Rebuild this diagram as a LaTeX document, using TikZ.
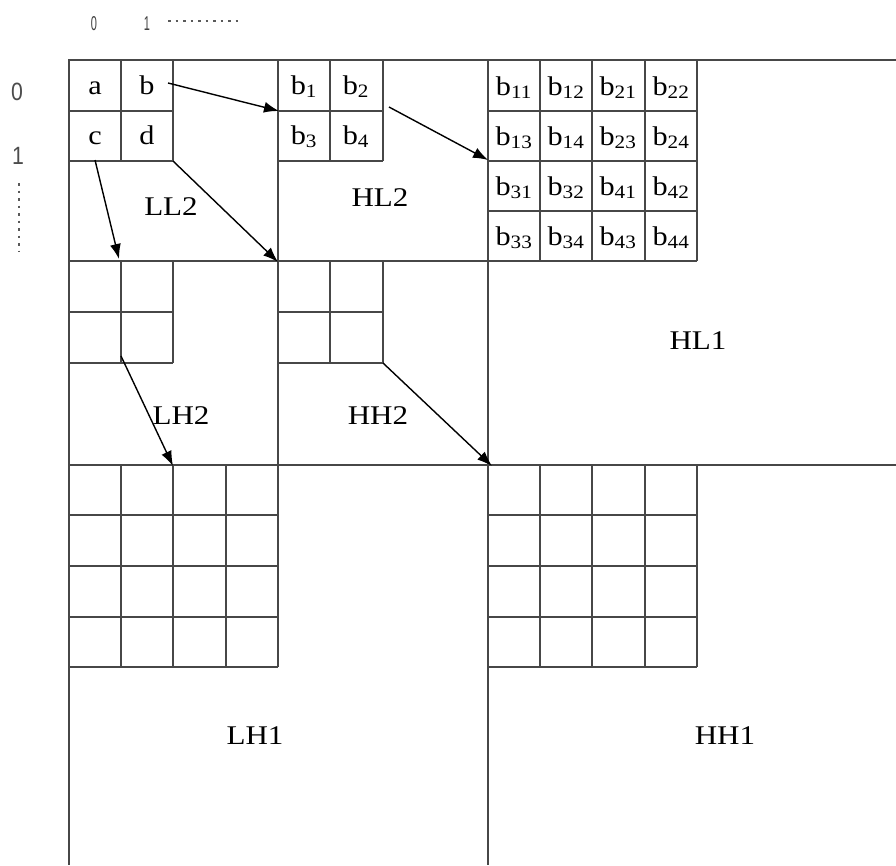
\documentclass[tikz,border=0pt]{standalone}
\usepackage{fontspec}
\setmainfont{Liberation Serif}
\newfontfamily\sansf{Liberation Sans}
\usetikzlibrary{arrows.meta}
\begin{document}
\begin{tikzpicture}[x=1pt,y=-1pt,
  gridline/.style={draw=black!72,line width=1.6pt},
  arr/.style={draw=black,line width=1.4pt,-{Latex[length=15pt,width=11pt]}},
  celltxt/.style={font=\fontsize{27}{29}\selectfont,xscale=1.12,inner sep=0pt,anchor=base},
  bandtxt/.style={font=\fontsize{27}{29}\selectfont,xscale=1.15,inner sep=0pt,anchor=base},
  axnum/.style={font=\sansf\fontsize{25}{27}\selectfont,text=black!70,inner sep=0pt,anchor=base,xscale=0.85},
  topnum/.style={font=\sansf\fontsize{20}{22}\selectfont,text=black!75,inner sep=0pt,anchor=base,xscale=0.55},
  dots/.style={draw=black!65,line width=2.4pt,dash pattern=on 2.5pt off 5pt}
]
\useasboundingbox (0,0) rectangle (896,865);
\fill[white] (0,0) rectangle (896,865);

% ---------- main frame ----------
\draw[gridline] (896,60) -- (69,60) -- (69,865);
\draw[gridline] (69,465) -- (896,465);
\draw[gridline] (488,60) -- (488,865);
\draw[gridline] (278,60) -- (278,465);
\draw[gridline] (69,261) -- (697,261);

% ---------- LL2 sub-grid ----------
\draw[gridline] (69,111) -- (173,111) (69,161) -- (173,161)
  (121,60) -- (121,161) (173,60) -- (173,161);
% ---------- HL2 sub-grid ----------
\draw[gridline] (278,111) -- (383,111) (278,161) -- (383,161)
  (330,60) -- (330,161) (383,60) -- (383,161);
% ---------- HL1 4x4 grid ----------
\draw[gridline] (488,111) -- (697,111) (488,161) -- (697,161) (488,211) -- (697,211)
  (540,60) -- (540,261) (592,60) -- (592,261) (645,60) -- (645,261) (697,60) -- (697,261);
% ---------- LH2 sub-grid ----------
\draw[gridline] (69,312) -- (173,312) (69,363) -- (173,363)
  (121,261) -- (121,363) (173,261) -- (173,363);
% ---------- HH2 sub-grid ----------
\draw[gridline] (278,312) -- (383,312) (278,363) -- (383,363)
  (330,261) -- (330,363) (383,261) -- (383,363);
% ---------- LH1 4x4 grid ----------
\draw[gridline] (69,515) -- (278,515) (69,566) -- (278,566) (69,617) -- (278,617) (69,667) -- (278,667)
  (121,465) -- (121,667) (173,465) -- (173,667) (226,465) -- (226,667) (278,465) -- (278,667);
% ---------- HH1 4x4 grid ----------
\draw[gridline] (488,515) -- (697,515) (488,566) -- (697,566) (488,617) -- (697,617) (488,667) -- (697,667)
  (540,465) -- (540,667) (592,465) -- (592,667) (645,465) -- (645,667) (697,465) -- (697,667);

% ---------- axis labels ----------
\node[topnum] (t0) at (94,30) {0};
\node[topnum] (t1) at (147,30) {1};
\coordinate (tdA) at (168,21);
\coordinate (tdB) at (238,21);
\draw[dots] (tdA) -- (tdB);
\node[axnum] (l0) at (17,100) {0};
\node[axnum] (l1) at (18,164) {1};
\coordinate (ldA) at (19,183);
\coordinate (ldB) at (19,252);
\draw[dots] (ldA) -- (ldB);

% ---------- cell letters ----------
\node[celltxt] (ca) at (95,94) {a};
\node[celltxt] (cb) at (147,94) {b};
\node[celltxt] (cc) at (95,144) {c};
\node[celltxt] (cd) at (147,144) {d};

\node[celltxt] (b1) at (304,94) {b\textsubscript{1}};
\node[celltxt] (b2) at (356,94) {b\textsubscript{2}};
\node[celltxt] (b3) at (304,144) {b\textsubscript{3}};
\node[celltxt] (b4) at (356,144) {b\textsubscript{4}};

\node[celltxt] (b11) at (514,95) {b\textsubscript{11}};
\node[celltxt] (b12) at (566,95) {b\textsubscript{12}};
\node[celltxt] (b21) at (618,95) {b\textsubscript{21}};
\node[celltxt] (b22) at (671,95) {b\textsubscript{22}};
\node[celltxt] (b13) at (514,145) {b\textsubscript{13}};
\node[celltxt] (b14) at (566,145) {b\textsubscript{14}};
\node[celltxt] (b23) at (618,145) {b\textsubscript{23}};
\node[celltxt] (b24) at (671,145) {b\textsubscript{24}};
\node[celltxt] (b31) at (514,195) {b\textsubscript{31}};
\node[celltxt] (b32) at (566,195) {b\textsubscript{32}};
\node[celltxt] (b41) at (618,195) {b\textsubscript{41}};
\node[celltxt] (b42) at (671,195) {b\textsubscript{42}};
\node[celltxt] (b33) at (514,245) {b\textsubscript{33}};
\node[celltxt] (b34) at (566,245) {b\textsubscript{34}};
\node[celltxt] (b43) at (618,245) {b\textsubscript{43}};
\node[celltxt] (b44) at (671,245) {b\textsubscript{44}};

% ---------- band labels ----------
\node[bandtxt] (LL2) at (171,215) {LL2};
\node[bandtxt] (HL2) at (380,206) {HL2};
\node[bandtxt] (HL1) at (698,349) {HL1};
\node[bandtxt] (LH2) at (181,424) {LH2};
\node[bandtxt] (HH2) at (378,424) {HH2};
\node[bandtxt] (LH1) at (255,744) {LH1};
\node[bandtxt] (HH1) at (725,744) {HH1};

% ---------- arrow end points ----------
\coordinate (s1) at (168,83);  \coordinate (e1) at (279,111);
\coordinate (s2) at (389,107); \coordinate (e2) at (488,160);
\coordinate (s3) at (173,161); \coordinate (e3) at (278,262);
\coordinate (s4) at (95,160);  \coordinate (e4) at (119,259);
\coordinate (s5) at (121,356); \coordinate (e5) at (173,466);
\coordinate (s6) at (383,363); \coordinate (e6) at (492,466);

\draw[arr] (s1) -- (e1);
\draw[arr] (s2) -- (e2);
\draw[arr] (s3) -- (e3);
\draw[arr] (s4) -- (e4);
\draw[arr] (s5) -- (e5);
\draw[arr] (s6) -- (e6);
\end{tikzpicture}
\end{document}
